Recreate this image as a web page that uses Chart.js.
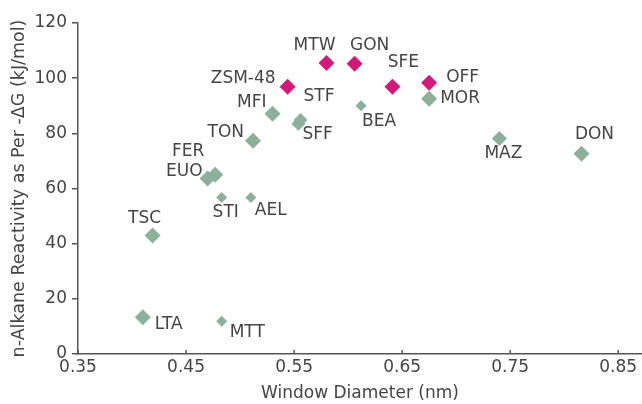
<!DOCTYPE html>
<html>
<head>
<meta charset="utf-8">
<script src="https://cdn.jsdelivr.net/npm/chart.js@4.4.0/dist/chart.umd.min.js"></script>
<style>
html,body{margin:0;padding:0;background:#fff;}
#wrap{width:642px;height:404px;}
</style>
</head>
<body>
<div id="wrap"><canvas id="zeoChart" width="642" height="404"></canvas></div>
<script>
let pinkNames = ["ZSM-48","MTW","GON","SFE","OFF"];
let pinkX = [0.544,0.580,0.606,0.641,0.675];
let pinkY = [96.9,105.5,105.2,96.9,98.3];

let greenNames = ["MOR","BEA","STF","SFF","MFI","TON","EUO","FER","STI","AEL","TSC","LTA","MTT","MAZ","DON"];
let greenX = [0.675,0.612,0.556,0.554,0.530,0.512,0.470,0.477,0.483,0.510,0.419,0.410,0.483,0.740,0.816];
let greenY = [92.5,90.0,84.8,83.5,87.1,77.3,63.6,65.0,56.7,56.7,43.0,13.3,11.9,78.1,72.6];

let xTicks = [0.35,0.45,0.55,0.65,0.75,0.85];
let yTicks = [0,20,40,60,80,100,120];

// label placement next to each marker: [dx, dy, align]
let pinkLabelPos = [[-12,-8,"right"],[-12,-17,"center"],[15,-18,"center"],[11,-24,"center"],[17,-5,"left"]];
let greenLabelPos = [[11,0,"left"],[18,16,"center"],[3,-24,"left"],[4,11,"left"],[-6,-11,"right"],[-9,-8,"right"],
  [-5,-7,"right"],[-27,-23,"center"],[4,15,"center"],[4,13,"left"],[-8,-17,"center"],[12,7,"left"],[8,11,"left"],[4,15,"center"],[13,-19,"center"]];
let pinkRadius = [8,8,8,8,8];
let greenRadius = [8,5.5,7,7,8,8,8,8,5.5,5.5,8,8,5.5,7.5,8];

let textColor = "#454545";
let axisColor = "#555";

function toPoints(xs,ys){
return xs.map((x,i)=>({x:x,y:ys[i]}));
}

let labelPlugin = {
id:"pointLabels",
afterDatasetsDraw(chart){
let ctx = chart.ctx;
let groups = [[pinkNames,pinkLabelPos],[greenNames,greenLabelPos]];
ctx.save();
ctx.font = "17px 'DejaVu Sans'";
ctx.fillStyle = textColor;
ctx.textBaseline = "middle";
groups.forEach((g,di)=>{
let meta = chart.getDatasetMeta(di);
meta.data.forEach((pt,i)=>{
let p = g[1][i];
ctx.textAlign = p[2];
ctx.fillText(g[0][i], pt.x + p[0], pt.y + p[1]);
});
});
// x tick marks point up into the plot
let xs = chart.scales.x;
ctx.strokeStyle = axisColor;
ctx.lineWidth = 1.5;
xTicks.forEach(v=>{
let px = xs.getPixelForValue(v);
ctx.beginPath();
ctx.moveTo(px, xs.top);
ctx.lineTo(px, xs.top - 4);
ctx.stroke();
});
ctx.restore();
}
};

new Chart(document.getElementById("zeoChart"),{
type:"scatter",
data:{
datasets:[
{data:toPoints(pinkX,pinkY),backgroundColor:"#d31a78",borderWidth:0,pointStyle:"rectRot",pointRadius:pinkRadius},
{data:toPoints(greenX,greenY),backgroundColor:"#8cb09b",borderWidth:0,pointStyle:"rectRot",pointRadius:greenRadius}
]
},
options:{
responsive:false,
animation:false,
events:[],
layout:{autoPadding:false,padding:{top:23,right:0,left:0,bottom:0}},
plugins:{legend:{display:false},tooltip:{enabled:false}},
scales:{
x:{
type:"linear",min:0.35,max:0.872,
afterBuildTicks:s=>{s.ticks = xTicks.map(v=>({value:v}));},
afterFit:s=>{s.height = 50; s.paddingRight = 0; s.paddingLeft = 0;},
grid:{display:true,drawOnChartArea:false,drawTicks:false},
border:{display:true,color:axisColor,width:1.5},
ticks:{padding:3,color:textColor,font:{family:"DejaVu Sans",size:17},callback:v=>v.toFixed(2)},
title:{display:true,text:"Window Diameter (nm)",color:textColor,font:{family:"DejaVu Sans",size:17},padding:{top:0,bottom:0}}
},
y:{
min:0,max:120,
afterBuildTicks:s=>{s.ticks = yTicks.map(v=>({value:v}));},
afterFit:s=>{s.width = 78; s.paddingTop = 0; s.paddingBottom = 0;},
grid:{display:true,drawOnChartArea:false,drawTicks:true,tickLength:6,color:axisColor,lineWidth:1.5},
border:{display:true,color:axisColor,width:1.5},
ticks:{padding:5,color:textColor,font:{family:"DejaVu Sans",size:17}},
title:{display:true,text:"n-Alkane Reactivity as Per -ΔG (kJ/mol)",color:textColor,font:{family:"DejaVu Sans",size:17.5},padding:{top:9,bottom:0}}
}
}
},
plugins:[labelPlugin]
});
</script>
</body>
</html>
